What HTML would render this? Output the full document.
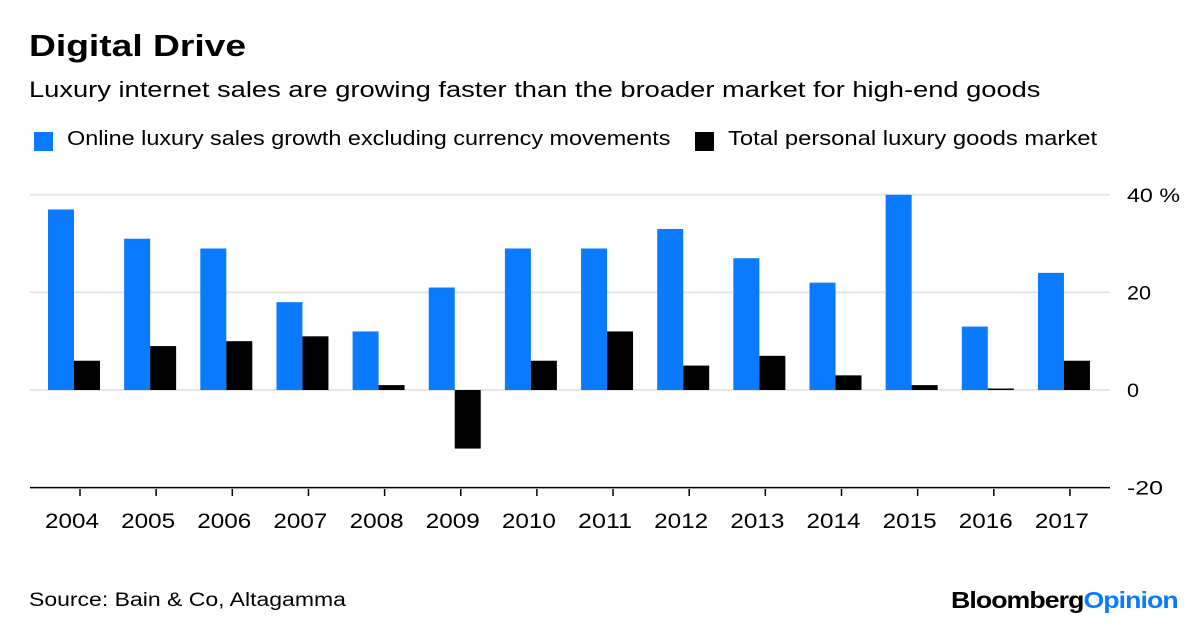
<!DOCTYPE html>
<html><head><meta charset="utf-8"><style>
body{margin:0;width:1200px;height:627px;background:#fff;font-family:"Liberation Sans",sans-serif;overflow:hidden;position:relative}
.t{position:absolute;white-space:nowrap;transform-origin:0 0}
</style></head><body>
<div class="t" style="left:29px;top:28px;font-size:31px;font-weight:bold;color:#000;transform:scaleX(1.2)">Digital Drive</div>
<div class="t" style="left:29px;top:77px;font-size:22px;color:#000;transform:scaleX(1.24)">Luxury internet sales are growing faster than the broader market for high-end goods</div>
<div class="t" style="left:34px;top:132px;width:19px;height:19px;background:#0a7bff"></div>
<div class="t" style="left:67px;top:128px;font-size:20px;color:#000;transform:scaleX(1.17)">Online luxury sales growth excluding currency movements</div>
<div class="t" style="left:695px;top:132px;width:19px;height:19px;background:#000"></div>
<div class="t" style="left:728px;top:128px;font-size:20px;color:#000;transform:scaleX(1.19)">Total personal luxury goods market</div>
<svg id="chart" width="1200" height="627" style="position:absolute;left:0;top:0"></svg>
<div class="t" style="left:29px;top:590px;font-size:19px;color:#000;transform:scaleX(1.21)">Source: Bain &amp; Co, Altagamma</div>
<div class="t" style="left:951px;top:587px;font-size:23px;font-weight:bold;letter-spacing:-0.8px;color:#000;transform:scaleX(1.16)">Bloomberg<span style="color:#0a7bff">Opinion</span></div>
<script>
const categories=["2004","2005","2006","2007","2008","2009","2010","2011","2012","2013","2014","2015","2016","2017"];
const onlineValues=[37,31,29,18,12,21,29,29,33,27,22,40,13,24];
const totalValues=[6,9,10,11,1,-12,6,12,5,7,3,1,0.3,6];
const yTicks=[40,20,0,-20];
const svg=document.getElementById('chart');
const NS='http://www.w3.org/2000/svg';
function y(v){return 390-v*4.88;}
function x(i){return 80+i*76.15;}
function mk(t,a){const e=document.createElementNS(NS,t);for(const k in a)e.setAttribute(k,a[k]);svg.appendChild(e);return e;}
yTicks.forEach(v=>{
  const l=mk('line',{x1:30,x2:1110,y1:y(v),y2:y(v),stroke:v===-20?'#000':'#e6e6e6','stroke-width':v===-20?1.5:2});
  
  
  const label=v===40?'40 %':String(v);
  const t=mk('text',{x:1127,y:y(v)+7,'font-size':19,fill:'#000','font-family':'Liberation Sans',textLength:v===40?53:(v===-20?36:(v===0?12:24)),lengthAdjust:'spacingAndGlyphs'});
  t.textContent=label;
  
  
});
categories.forEach((c,i)=>{
  const b=onlineValues[i];
  const r=mk('rect',{x:x(i)-32,y:Math.min(y(b),y(0)),width:26,height:Math.abs(y(b)-y(0)),fill:'#0a7bff'});
  
  
  const k=totalValues[i];
  const r2=mk('rect',{x:x(i)-6,y:Math.min(y(k),y(0)),width:26,height:Math.max(1,Math.abs(y(k)-y(0))),fill:'#000'});
  
  
  const tk=mk('line',{x1:x(i),x2:x(i),y1:489,y2:496,stroke:'#000','stroke-width':1.5});
  
  
  const t=mk('text',{x:x(i)-35,y:528,'font-size':21,fill:'#000','font-family':'Liberation Sans',textLength:54,lengthAdjust:'spacingAndGlyphs'});
  t.textContent=c;
  
  
});
</script>
</body></html>
